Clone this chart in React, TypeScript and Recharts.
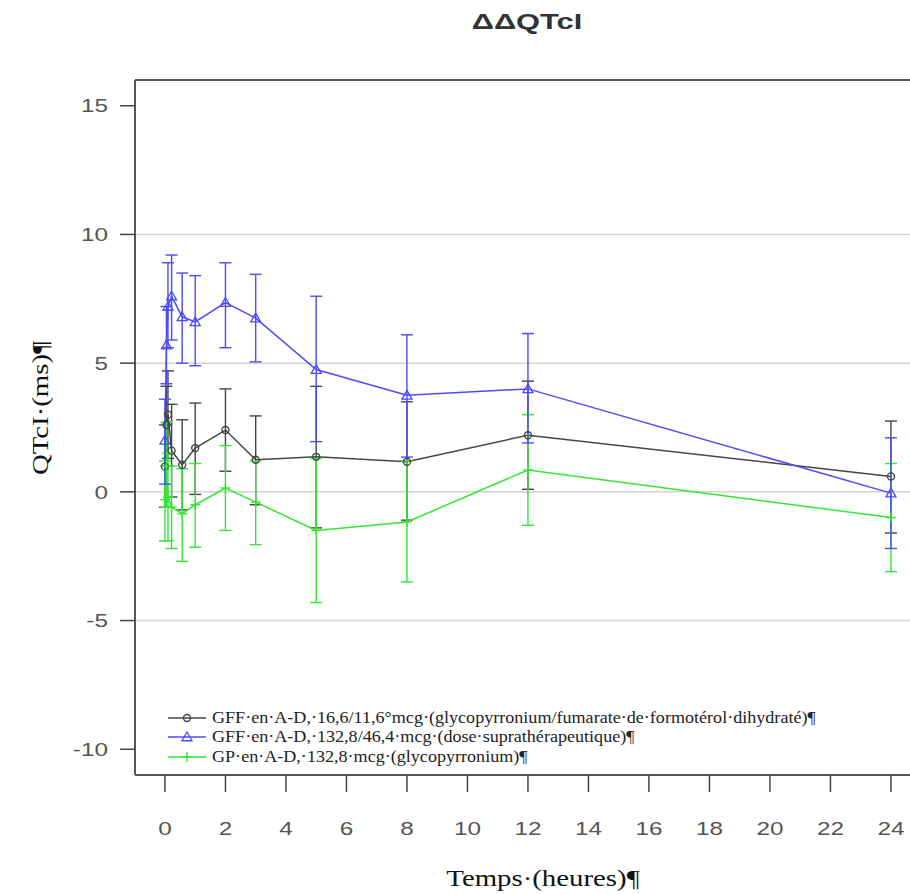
import React from 'react';
import { LineChart, Line, XAxis, YAxis, ErrorBar, ReferenceLine } from 'recharts';

// Time after dose (hours)
const times = [0, 0.05, 0.1, 0.22, 0.57, 1, 2, 3, 5, 8, 12, 24];

// GFF 16,6/11,6 mcg (black)
const gffMean = [0.98, 2.6, 3.0, 1.6, 1.05, 1.7, 2.4, 1.25, 1.36, 1.17, 2.2, 0.6];
const gffLow = [-0.6, 1.0, 1.3, -0.2, -0.7, -0.1, 0.8, -0.5, -1.4, -1.1, 0.1, -1.6];
const gffHigh = [2.6, 4.1, 4.7, 3.4, 2.8, 3.45, 4.0, 2.95, 4.1, 3.5, 4.3, 2.75];

// GFF 132,8/46,4 mcg (blue)
const supraMean = [2.0, 5.7, 7.2, 7.6, 6.8, 6.6, 7.35, 6.75, 4.75, 3.75, 4.0, -0.05];
const supraLow = [0.3, 4.2, 5.6, 5.9, 5.0, 4.9, 5.6, 5.05, 1.95, 1.35, 1.9, -2.2];
const supraHigh = [3.6, 7.2, 8.9, 9.2, 8.5, 8.4, 8.9, 8.45, 7.6, 6.1, 6.15, 2.1];

// GP 132,8 mcg (green)
const gpMean = [-0.3, 1.0, -0.2, -0.6, -0.85, -0.5, 0.15, -0.4, -1.5, -1.17, 0.85, -1.0];
const gpLow = [-1.9, -0.6, -1.9, -2.2, -2.7, -2.15, -1.5, -2.05, -4.3, -3.5, -1.3, -3.1];
const gpHigh = [1.2, 2.7, 1.5, 1.0, 0.9, 1.1, 1.8, 1.2, 1.3, 1.2, 3.0, 1.1];

const xTicks = [0, 2, 4, 6, 8, 10, 12, 14, 16, 18, 20, 22, 24];
const yTicks = [15, 10, 5, 0, -5, -10];
const gridLines = [10, 5, 0, -5];

const seriesNames = [
  'GFF·en·A-D,·16,6/11,6°mcg·(glycopyrronium/fumarate·de·formotérol·dihydraté)¶',
  'GFF·en·A-D,·132,8/46,4·mcg·(dose·suprathérapeutique)¶',
  'GP·en·A-D,·132,8·mcg·(glycopyrronium)¶',
];

const BLACK = '#454545';
const BLUE = '#4a4aff';
const GREEN = '#33e833';

const SERIF = '"Liberation Serif", "Times New Roman", serif';
const SANS = '"Liberation Sans", Arial, sans-serif';

const data = times.map((t, i) => ({
  t,
  gff: gffMean[i],
  gffErr: [gffMean[i] - gffLow[i], gffHigh[i] - gffMean[i]],
  supra: supraMean[i],
  supraErr: [supraMean[i] - supraLow[i], supraHigh[i] - supraMean[i]],
  gp: gpMean[i],
  gpErr: [gpMean[i] - gpLow[i], gpHigh[i] - gpMean[i]],
}));

type Marker = 'circle' | 'triangle' | 'plus';

function Glyph({ kind, x, y, color }: { kind: Marker; x: number; y: number; color: string }) {
  if (kind === 'circle') {
    return <circle cx={x} cy={y} r={3.5} fill="none" stroke={color} strokeWidth={1.4} />;
  }
  if (kind === 'triangle') {
    const s = 5;
    return (
      <polygon
        points={`${x},${y - s} ${x - s},${y + s * 0.75} ${x + s},${y + s * 0.75}`}
        fill="none"
        stroke={color}
        strokeWidth={1.3}
      />
    );
  }
  return (
    <g stroke={color} strokeWidth={1.4}>
      <line x1={x - 5} y1={y} x2={x + 5} y2={y} />
      <line x1={x} y1={y - 5} x2={x} y2={y + 5} />
    </g>
  );
}

const makeDot = (kind: Marker, color: string) => (props: any) => {
  const { cx, cy, index } = props;
  if (cx == null || cy == null) return <g key={index} />;
  return <Glyph key={index} kind={kind} x={cx} y={cy} color={color} />;
};

// the source image is stretched horizontally, so tick text is widened a bit
function XTick({ x, y, payload }: any) {
  return (
    <text
      transform={`translate(${x},${y}) scale(1.28,1)`}
      textAnchor="middle"
      dy="0.71em"
      fontFamily={SANS}
      fontSize={19}
      fill="#555"
    >
      {payload.value}
    </text>
  );
}

function YTick({ x, y, payload }: any) {
  return (
    <text
      transform={`translate(${x},${y}) scale(1.28,1)`}
      textAnchor="end"
      dy="0.355em"
      fontFamily={SANS}
      fontSize={19}
      fill="#555"
    >
      {payload.value}
    </text>
  );
}

const legendRows: { kind: Marker; color: string }[] = [
  { kind: 'circle', color: BLACK },
  { kind: 'triangle', color: BLUE },
  { kind: 'plus', color: GREEN },
];

function LegendBox() {
  return (
    <div style={{ position: 'absolute', left: 166, top: 708, fontFamily: SERIF, fontSize: 16, color: '#222' }}>
      {legendRows.map((r, i) => (
        <div key={i} style={{ display: 'flex', alignItems: 'center', height: 19.5 }}>
          <svg width={42} height={14} style={{ marginRight: 4, flex: 'none' }}>
            <line x1={2} y1={7} x2={40} y2={7} stroke={r.color} strokeWidth={1.5} />
            <Glyph kind={r.kind} x={21} y={7} color={r.color} />
          </svg>
          <span style={{ whiteSpace: 'nowrap', display: 'inline-block', transform: 'scaleX(1.13)', transformOrigin: 'left center' }}>
            {seriesNames[i]}
          </span>
        </div>
      ))}
    </div>
  );
}

export default function App() {
  return (
    <div style={{ position: 'absolute', left: 0, top: 0, width: 910, height: 894, background: '#fff', overflow: 'hidden' }}>
      <div
        style={{
          position: 'absolute',
          left: 0,
          width: 1054,
          top: 9,
          textAlign: 'center',
          fontFamily: SANS,
          fontWeight: 'bold',
          fontSize: 22,
          color: '#333',
          transform: 'scaleX(1.4)',
          transformOrigin: '527px 0',
        }}
      >
        ΔΔQTcI
      </div>
      <LineChart width={910} height={894} data={data} margin={{ top: 80, right: 0, bottom: 0, left: 0 }}>
        <XAxis
          dataKey="t"
          type="number"
          domain={[-0.99, 24.63]}
          ticks={xTicks}
          allowDataOverflow
          height={119}
          tickSize={17}
          tickMargin={30}
          tick={<XTick />}
          axisLine={{ stroke: '#555', strokeWidth: 2 }}
          tickLine={{ stroke: '#444', strokeWidth: 1.5 }}
          interval={0}
        />
        <YAxis
          type="number"
          domain={[-11, 16]}
          ticks={yTicks}
          allowDataOverflow
          width={135}
          tickSize={15}
          tickMargin={12}
          tick={<YTick />}
          axisLine={{ stroke: '#555', strokeWidth: 2 }}
          tickLine={{ stroke: '#444', strokeWidth: 1.5 }}
          interval={0}
        />
        {gridLines.map((v) => (
          <ReferenceLine key={v} y={v} stroke="#d4d4d4" strokeWidth={1.5} />
        ))}
        <ReferenceLine y={16} stroke="#555" strokeWidth={2} />
        <Line dataKey="gff" stroke={BLACK} strokeWidth={1.5} dot={makeDot('circle', BLACK)} isAnimationActive={false}>
          <ErrorBar dataKey="gffErr" direction="y" width={6} stroke={BLACK} strokeWidth={1.4} />
        </Line>
        <Line dataKey="gp" stroke={GREEN} strokeWidth={1.5} dot={makeDot('plus', GREEN)} isAnimationActive={false}>
          <ErrorBar dataKey="gpErr" direction="y" width={6} stroke={GREEN} strokeWidth={1.4} />
        </Line>
        <Line dataKey="supra" stroke={BLUE} strokeWidth={1.5} dot={makeDot('triangle', BLUE)} isAnimationActive={false}>
          <ErrorBar dataKey="supraErr" direction="y" width={6} stroke={BLUE} strokeWidth={1.4} />
        </Line>
      </LineChart>
      <LegendBox />
      <div
        style={{
          position: 'absolute',
          left: 543,
          top: 878,
          transform: 'translate(-50%, -50%) scaleX(1.2)',
          fontFamily: SERIF,
          fontSize: 24,
          color: '#111',
          whiteSpace: 'nowrap',
        }}
      >
        Temps·(heures)¶
      </div>
      <div
        style={{
          position: 'absolute',
          left: 40,
          top: 408,
          transform: 'translate(-50%, -50%) rotate(-90deg) scaleX(1.2)',
          fontFamily: SERIF,
          fontSize: 24,
          color: '#111',
          whiteSpace: 'nowrap',
        }}
      >
        QTcI·(ms)¶
      </div>
    </div>
  );
}
